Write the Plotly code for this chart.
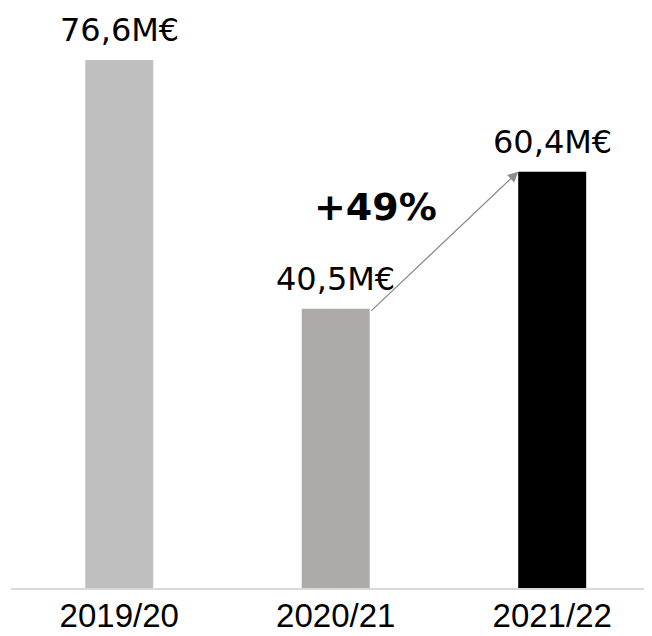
import plotly.graph_objects as go

categories = ["2019/20", "2020/21", "2021/22"]
values = [76.6, 40.5, 60.4]
value_labels = ["76,6M€", "40,5M€", "60,4M€"]
colors = ["#BFBFBF", "#AEAAAA", "#000000"]

growth = round((values[2] / values[1] - 1) * 100)
bar_w = 0.314

fig = go.Figure()
fig.add_trace(go.Bar(
    x=list(range(len(categories))), y=values, width=bar_w,
    marker=dict(color=colors, line=dict(width=0)),
    hoverinfo="skip",
))

annotations = []
for i, (v, lab) in enumerate(zip(values, value_labels)):
    annotations.append(dict(
        x=i, y=v, text=lab, showarrow=False, xref="x", yref="y",
        yanchor="bottom", yshift=9,
        font=dict(family="DejaVu Sans", size=32, color="#000000"),
    ))

# growth arrow from bar 2 to bar 3
annotations.append(dict(
    x=2 - bar_w / 2, y=values[2], ax=1 + bar_w / 2, ay=values[1] - 0.5,
    xref="x", yref="y", axref="x", ayref="y",
    showarrow=True, arrowhead=2, arrowsize=1.6, arrowwidth=1.3,
    arrowcolor="#8C8C8C", text="", standoff=0, startstandoff=0,
))
annotations.append(dict(
    x=1.185, y=55.3, text=f"<b>+{growth}%</b>", showarrow=False,
    xref="x", yref="y",
    font=dict(family="DejaVu Sans", size=38, color="#000000"),
))

fig.update_layout(
    width=644, height=628,
    margin=dict(l=3, r=0, t=0, b=48, autoexpand=False),
    paper_bgcolor="white", plot_bgcolor="white",
    showlegend=False,
    annotations=annotations,
    xaxis=dict(
        range=[-0.5, 2.461], tickmode="array",
        tickvals=list(range(len(categories))), ticktext=categories,
        showline=True, linecolor="#D9D9D9", linewidth=2,
        showgrid=False, zeroline=False, ticks="", automargin=False,
        ticklabelstandoff=-3,
        tickfont=dict(family="Liberation Sans", size=33, color="#000000"),
    ),
    yaxis=dict(
        range=[0, 84.14], visible=False, showgrid=False, zeroline=False,
    ),
)

fig.write_html("out.html")
